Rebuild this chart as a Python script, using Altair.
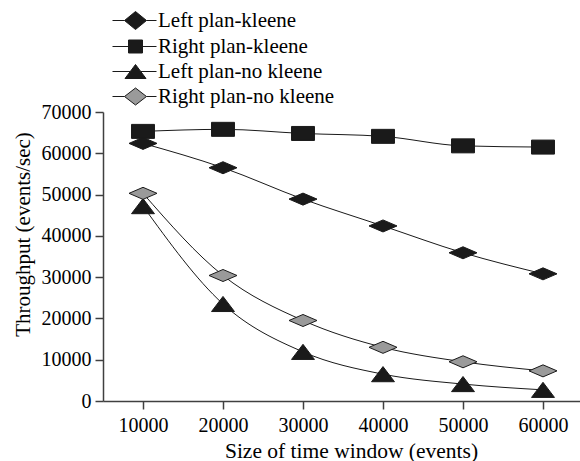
import altair as alt
import pandas as pd

# Window sizes (events)
window = [10000, 20000, 30000, 40000, 50000, 60000]

# Throughput (events/sec) per plan
left_kleene = [62400, 56500, 48900, 42400, 35900, 30800]
right_kleene = [65300, 65800, 64800, 64100, 61800, 61500]
left_no_kleene = [47200, 23500, 11900, 6500, 4100, 2700]
right_no_kleene = [50300, 30400, 19500, 13000, 9500, 7300]

series_names = [
    "Left plan-kleene",
    "Right plan-kleene",
    "Left plan-no kleene",
    "Right plan-no kleene",
]
series_values = [left_kleene, right_kleene, left_no_kleene, right_no_kleene]

rows = []
for name, vals in zip(series_names, series_values):
    for w, v in zip(window, vals):
        rows.append({"window": w, "throughput": v, "series": name})
df = pd.DataFrame(rows)

FONT = "Liberation Serif"
AXIS_COLOR = "#404040"
DARK = "#1a1a1a"
fills = [DARK, DARK, DARK, "#9a9a9a"]

# Marker outlines used on the plot (wide, flat shapes)
plot_shapes = [
    "M-1,0L0,-0.43L1,0L0,0.43Z",
    "M-0.82,-0.5H0.82V0.5H-0.82Z",
    "M0,-0.54L0.82,0.54L-0.82,0.54Z",
    "M-1,0L0,-0.43L1,0L0,0.43Z",
]

# Legend keys: a short line with the marker drawn over it
legend_shapes = [
    "M-4.6,0H-2.2M2.2,0H4.2M-2.2,0L0,-1.8L2.2,0L0,1.8Z",
    "M-4.6,0H-1.4M1.4,0H4.2M-1.4,-1.3H1.4V1.3H-1.4Z",
    "M-4.6,0H-1.05M1.05,0H4.2M0,-1.4L2.1,1.4L-2.1,1.4Z",
    "M-4.6,0H-2.2M2.2,0H4.2M-2.2,0L0,-1.7L2.2,0L0,1.7Z",
]

x_enc = alt.X(
    "window:Q",
    scale=alt.Scale(domain=[5000, 64625], nice=False, zero=False),
    axis=alt.Axis(
        values=window,
        format="d",
        title="Size of time window (events)",
        titleX=248,
        titleY=50,
        titleBaseline="middle",
        titleFontSize=21.5,
        labelPadding=6,
    ),
)
y_enc = alt.Y(
    "throughput:Q",
    scale=alt.Scale(domain=[0, 70000], nice=False),
    axis=alt.Axis(
        values=list(range(0, 70001, 10000)),
        format="d",
        title="Throughput (events/sec)",
        titleX=-80,
        titleY=122,
        titleBaseline="middle",
        labelPadding=4,
    ),
)

base = alt.Chart(df)

lines = base.mark_line(
    interpolate="monotone", color=DARK, strokeWidth=1
).encode(x=x_enc, y=y_enc, detail="series:N")

points = base.mark_point(
    filled=True, size=784, stroke=DARK, strokeWidth=1, opacity=1
).encode(
    x=x_enc,
    y=y_enc,
    shape=alt.Shape(
        "series:N",
        scale=alt.Scale(domain=series_names, range=plot_shapes),
        legend=None,
    ),
    fill=alt.Fill(
        "series:N",
        scale=alt.Scale(domain=series_names, range=fills),
        legend=None,
    ),
)

legend_def = alt.Legend(
    title=None,
    orient="none",
    legendX=22,
    legendY=-102,
    labelFont=FONT,
    labelFontSize=21,
    labelColor="black",
    labelLimit=0,
    symbolSize=100,
    labelOffset=12,
    rowPadding=3,
    padding=0,
    symbolStrokeWidth=1,
)

# Legend-only layer: no rows are drawn, the legend comes from the fixed domains
legend_layer = base.transform_filter("false").mark_point(
    filled=True, strokeWidth=1, opacity=1
).encode(
    x=x_enc,
    y=y_enc,
    shape=alt.Shape(
        "series:N",
        scale=alt.Scale(domain=series_names, range=legend_shapes),
        legend=legend_def,
    ),
    fill=alt.Fill(
        "series:N",
        scale=alt.Scale(domain=series_names, range=fills),
        legend=legend_def,
    ),
    stroke=alt.Stroke(
        "series:N",
        scale=alt.Scale(domain=series_names, range=[DARK] * 4),
        legend=legend_def,
    ),
)

chart = (
    alt.layer(lines, points, legend_layer)
    .resolve_scale(shape="independent", fill="independent", stroke="independent")
    .properties(
        width=477,
        height=289,
        autosize=alt.AutoSizeParams(type="none"),
        padding={"left": 103, "top": 112, "right": 0, "bottom": 60},
    )
    .configure_view(stroke=None)
    .configure_axis(
        grid=False,
        labelFont=FONT,
        labelFontSize=20,
        labelColor="black",
        titleFont=FONT,
        titleFontSize=21,
        titleFontWeight="normal",
        titleColor="black",
        domainColor=AXIS_COLOR,
        domainWidth=1.5,
        tickColor=AXIS_COLOR,
        tickWidth=1.5,
        tickSize=8,
    )
)

chart.save("out.html", embed_options={"renderer": "svg", "actions": False})
